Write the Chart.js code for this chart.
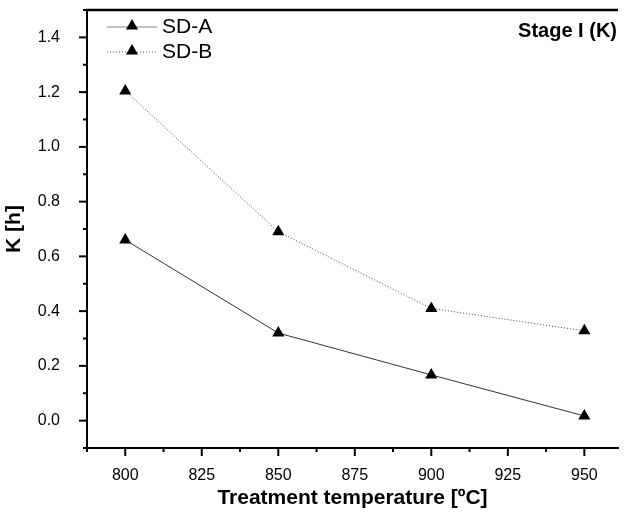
<!DOCTYPE html>
<html>
<head>
<meta charset="utf-8">
<script src="https://cdn.jsdelivr.net/npm/chart.js@4.4.0/dist/chart.umd.min.js"></script>
<style>
  html, body { margin: 0; padding: 0; background: #fff; }
  #wadah { width: 625px; height: 514px; }
</style>
</head>
<body>
<div id="wadah"><canvas id="grafikK"></canvas></div>
<script>
const suhu = [800, 850, 900, 950];
const nilaiSdA = [0.66, 0.32, 0.167, 0.017];
const nilaiSdB = [1.204, 0.69, 0.41, 0.328];
const labelSeri = ["SD-A", "SD-B"];
const labelX = [800, 825, 850, 875, 900, 925, 950];
const labelY = [0.0, 0.2, 0.4, 0.6, 0.8, 1.0, 1.2, 1.4];

const hurufArial = "'Liberation Sans', Arial, sans-serif";

function segitiga(ctx, x, y, r) {
  ctx.beginPath();
  ctx.moveTo(x, y - r);
  ctx.lineTo(x + r * 0.866, y + r * 0.5);
  ctx.lineTo(x - r * 0.866, y + r * 0.5);
  ctx.closePath();
  ctx.fill();
}

const hiasan = {
  id: "hiasan",
  afterDraw(chart) {
    const ctx = chart.ctx;
    const area = chart.chartArea;
    ctx.save();
    ctx.strokeStyle = "#000";
    ctx.lineWidth = 2.5;
    ctx.beginPath();
    ctx.moveTo(area.left - 1, area.top);
    ctx.lineTo(area.right, area.top);
    ctx.stroke();

    // tick marks, long for labelled ones
    ctx.lineWidth = 2;
    const sx = chart.scales.x;
    sx.ticks.forEach((t) => {
      const p = sx.getPixelForValue(t.value);
      const pjg = labelX.includes(t.value) ? 8 : 4;
      ctx.beginPath();
      ctx.moveTo(p, area.bottom);
      ctx.lineTo(p, area.bottom + pjg);
      ctx.stroke();
    });
    const sy = chart.scales.y;
    sy.ticks.forEach((t) => {
      const p = sy.getPixelForValue(t.value);
      const utama = labelY.some((v) => Math.abs(v - t.value) < 1e-6);
      const pjg = utama ? 8 : 4;
      ctx.beginPath();
      ctx.moveTo(area.left, p);
      ctx.lineTo(area.left - pjg, p);
      ctx.stroke();
    });

    // legend
    chart.data.datasets.forEach((ds, i) => {
      const yy = 27 + i * 25;
      ctx.strokeStyle = i === 0 ? "#888" : "#555";
      ctx.lineWidth = 1;
      ctx.setLineDash(ds.borderDash || []);
      ctx.beginPath();
      ctx.moveTo(107, yy);
      ctx.lineTo(157, yy);
      ctx.stroke();
      ctx.setLineDash([]);
      ctx.fillStyle = "#000";
      segitiga(ctx, 132, yy - 1, 7);
      ctx.font = "21px " + hurufArial;
      ctx.textBaseline = "middle";
      ctx.textAlign = "left";
      ctx.fillText(ds.label, 162, yy);
    });

    ctx.font = "bold 20px " + hurufArial;
    ctx.textAlign = "right";
    ctx.textBaseline = "middle";
    ctx.fillStyle = "#000";
    ctx.fillText("Stage I (K)", 617, 31);
    ctx.restore();
  },
};

const grafik = new Chart(document.getElementById("grafikK").getContext("2d"), {
  type: "line",
  data: {
    labels: suhu,
    datasets: [
      {
        label: labelSeri[0],
        data: suhu.map((s, i) => ({ x: s, y: nilaiSdA[i] })),
        borderColor: "#333",
        borderWidth: 1,
        pointStyle: "triangle",
        pointRadius: 7,
        pointBorderWidth: 0,
        pointBackgroundColor: "#000",
        pointBorderColor: "#000",
        fill: false,
        tension: 0,
      },
      {
        label: labelSeri[1],
        data: suhu.map((s, i) => ({ x: s, y: nilaiSdB[i] })),
        borderColor: "#444",
        borderWidth: 1,
        borderDash: [1, 2],
        pointStyle: "triangle",
        pointRadius: 7,
        pointBorderWidth: 0,
        pointBackgroundColor: "#000",
        pointBorderColor: "#000",
        fill: false,
        tension: 0,
      },
    ],
  },
  options: {
    responsive: true,
    maintainAspectRatio: false,
    animation: false,
    layout: { padding: { left: 2, top: 10, right: 0, bottom: 3 } },
    plugins: {
      legend: { display: false },
      tooltip: { enabled: false },
    },
    scales: {
      x: {
        type: "linear",
        min: 787.5,
        max: 961,
        afterFit: (scale) => {
          scale.height = 63;
          scale.paddingLeft = 0;
          scale.paddingRight = 0;
        },
        grid: { display: false },
        border: { display: true, color: "#000", width: 2 },
        ticks: {
          stepSize: 12.5,
          includeBounds: false,
          padding: 10,
          color: "#000",
          font: { family: hurufArial, size: 16 },
          callback: (v) => (labelX.includes(v) ? String(v) : ""),
          maxRotation: 0,
          autoSkip: false,
        },
        title: {
          display: true,
          text: "Treatment temperature [ºC]",
          color: "#000",
          padding: 0,
          font: { family: hurufArial, size: 21, weight: "bold" },
        },
      },
      y: {
        min: -0.1,
        max: 1.5,
        afterFit: (scale) => {
          scale.width = 85;
          scale.paddingTop = 0;
          scale.paddingBottom = 0;
        },
        grid: { display: false },
        border: { display: true, color: "#000", width: 2 },
        ticks: {
          stepSize: 0.1,
          padding: 19,
          color: "#000",
          font: { family: hurufArial, size: 16 },
          autoSkip: false,
          callback: (v) =>
            labelY.some((l) => Math.abs(l - v) < 1e-6) ? v.toFixed(1) : "",
        },
        title: {
          display: true,
          text: "K [h]",
          color: "#000",
          padding: 0,
          font: { family: hurufArial, size: 21, weight: "bold" },
        },
      },
    },
  },
  plugins: [hiasan],
});
</script>
</body>
</html>
